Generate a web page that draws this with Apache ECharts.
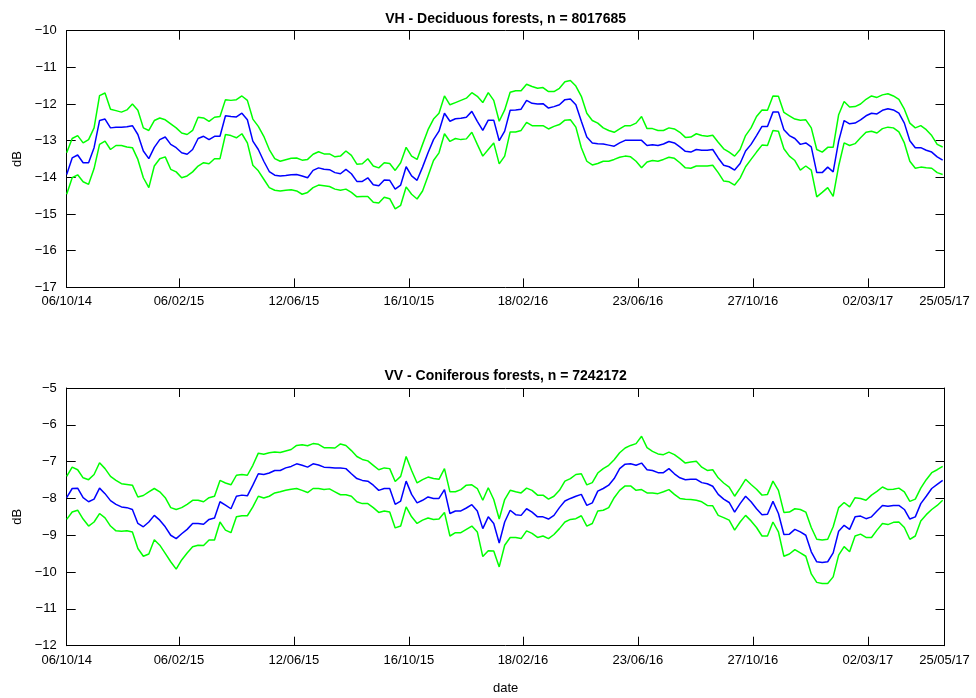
<!DOCTYPE html>
<html>
<head>
<meta charset="utf-8">
<script src="https://cdn.jsdelivr.net/npm/echarts@6/dist/echarts.min.js"></script>
<style>
  html, body { margin: 0; padding: 0; background: #ffffff; }
  #chart { width: 976px; height: 698px; }
</style>
</head>
<body>
<div id="chart"></div>
<script>
// Sampling grid of the backscatter time series
const firstDate = '2014-10-06';
const stepDays = 6;

// Date ticks shown on both panels
const tickDates = ['2014-10-06', '2015-02-06', '2015-06-12', '2015-10-16', '2016-02-18',
                   '2016-06-23', '2016-10-27', '2017-03-02', '2017-05-25'];

const vhTitle = 'VH - Deciduous forests, n = 8017685';
const vvTitle = 'VV - Coniferous forests, n = 7242172';

// VH, deciduous forests: mean and mean +/- one standard deviation (dB)
const vhMean = [
  -13.92, -13.47, -13.39, -13.60, -13.60, -13.19, -12.45, -12.41, -12.65, -12.63,
  -12.63, -12.62, -12.59, -12.83, -13.28, -13.49, -13.18, -12.97, -12.90, -13.10,
  -13.19, -13.33, -13.37, -13.24, -12.94, -12.88, -12.97, -12.88, -12.88, -12.32,
  -12.34, -12.35, -12.25, -12.43, -13.01, -13.24, -13.56, -13.84, -13.94, -13.96,
  -13.95, -13.93, -13.92, -13.96, -14.01, -13.81, -13.74, -13.78, -13.79, -13.87,
  -13.90, -13.78, -13.90, -14.11, -14.11, -14.01, -14.20, -14.23, -14.07, -14.08,
  -14.32, -14.21, -13.71, -13.96, -14.08, -13.72, -13.33, -12.97, -12.74, -12.25,
  -12.47, -12.40, -12.39, -12.36, -12.20, -12.47, -12.72, -12.44, -12.44, -13.00,
  -12.74, -12.17, -12.16, -12.14, -11.90, -11.98, -12.00, -11.99, -12.11, -12.07,
  -12.02, -11.88, -11.86, -12.02, -12.47, -12.90, -13.06, -13.08, -13.09, -13.12,
  -13.15, -13.06, -12.99, -12.99, -12.99, -12.99, -13.13, -13.11, -13.13, -13.09,
  -13.02, -13.06, -13.17, -13.29, -13.31, -13.24,
  -13.26, -13.26, -13.24, -13.47, -13.67, -13.71, -13.80, -13.62, -13.28, -13.10,
  -12.86, -12.61, -12.61, -12.22, -12.22, -12.70, -12.86, -12.94, -13.10, -13.06,
  -13.17, -13.87, -13.87, -13.72, -13.85, -13.01, -12.45, -12.54, -12.52, -12.43,
  -12.32, -12.25, -12.27, -12.17, -12.13, -12.16, -12.25, -12.52, -13.00, -13.19,
  -13.19, -13.26, -13.31, -13.44, -13.53
];
const vhUpper = [
  -13.33, -12.94, -12.86, -13.06, -12.97, -12.65, -11.77, -11.70, -12.14, -12.18,
  -12.22, -12.16, -12.00, -12.17, -12.65, -12.72, -12.45, -12.38, -12.43, -12.54,
  -12.65, -12.79, -12.83, -12.72, -12.36, -12.38, -12.47, -12.36, -12.34, -11.88,
  -11.90, -11.88, -11.78, -11.90, -12.41, -12.61, -12.88, -13.24, -13.49, -13.56,
  -13.52, -13.48, -13.47, -13.53, -13.51, -13.37, -13.30, -13.36, -13.36, -13.44,
  -13.42, -13.28, -13.40, -13.64, -13.63, -13.49, -13.69, -13.74, -13.60, -13.62,
  -13.81, -13.60, -13.18, -13.42, -13.51, -13.10, -12.70, -12.41, -12.25, -11.78,
  -12.02, -11.96, -11.90, -11.84, -11.69, -11.79, -11.96, -11.69, -11.90, -12.47,
  -12.16, -11.68, -11.64, -11.64, -11.46, -11.52, -11.57, -11.55, -11.66, -11.66,
  -11.57, -11.39, -11.36, -11.51, -11.79, -12.25, -12.45, -12.52, -12.65, -12.72,
  -12.77, -12.68, -12.59, -12.59, -12.52, -12.34, -12.67, -12.67, -12.72, -12.72,
  -12.65, -12.68, -12.77, -12.91, -12.90, -12.81,
  -12.86, -12.88, -12.85, -13.04, -13.22, -13.31, -13.42, -13.24, -12.86, -12.65,
  -12.34, -12.16, -12.17, -11.78, -11.79, -12.23, -12.32, -12.41, -12.44, -12.43,
  -12.65, -13.24, -13.31, -13.18, -13.18, -12.29, -11.93, -12.08, -12.07, -12.00,
  -11.87, -11.78, -11.82, -11.75, -11.72, -11.78, -11.87, -12.14, -12.52, -12.65,
  -12.59, -12.70, -12.86, -13.10, -13.17
];
const vhLower = [
  -14.46, -14.01, -13.93, -14.12, -14.19, -13.76, -13.10, -13.01, -13.24, -13.13,
  -13.13, -13.17, -13.19, -13.51, -14.01, -14.28, -13.69, -13.49, -13.44, -13.78,
  -13.85, -14.01, -13.96, -13.85, -13.69, -13.60, -13.63, -13.49, -13.49, -12.83,
  -12.86, -12.92, -12.81, -13.06, -13.67, -13.82, -14.05, -14.28, -14.35, -14.37,
  -14.35, -14.34, -14.37, -14.46, -14.41, -14.28, -14.21, -14.23, -14.25, -14.32,
  -14.35, -14.32, -14.41, -14.53, -14.52, -14.52, -14.68, -14.70, -14.54, -14.58,
  -14.86, -14.76, -14.26, -14.46, -14.59, -14.37, -13.96, -13.54, -13.33, -12.81,
  -13.02, -12.94, -12.97, -12.95, -12.77, -13.10, -13.42, -13.24, -13.06, -13.63,
  -13.42, -12.76, -12.76, -12.72, -12.50, -12.59, -12.59, -12.59, -12.68, -12.61,
  -12.56, -12.44, -12.43, -12.63, -13.19, -13.56, -13.66, -13.62, -13.56, -13.56,
  -13.51, -13.45, -13.42, -13.44, -13.56, -13.74, -13.58, -13.54, -13.56, -13.51,
  -13.45, -13.48, -13.60, -13.74, -13.75, -13.69,
  -13.69, -13.69, -13.67, -13.87, -14.10, -14.12, -14.21, -14.02, -13.71, -13.51,
  -13.31, -13.12, -13.13, -12.72, -12.74, -13.22, -13.42, -13.54, -13.80, -13.69,
  -13.80, -14.53, -14.41, -14.28, -14.52, -13.69, -13.06, -13.13, -13.08, -12.92,
  -12.77, -12.74, -12.79, -12.67, -12.63, -12.65, -12.76, -13.06, -13.56, -13.75,
  -13.72, -13.74, -13.75, -13.87, -13.92
];

// VV, coniferous forests: mean and mean +/- one standard deviation (dB)
const vvMean = [
  -7.98, -7.73, -7.72, -7.98, -8.09, -8.02, -7.72, -7.87, -8.06, -8.16,
  -8.23, -8.25, -8.30, -8.68, -8.77, -8.64, -8.46, -8.59, -8.77, -9.00,
  -9.09, -8.96, -8.84, -8.68, -8.68, -8.70, -8.57, -8.53, -8.09, -8.18,
  -8.28, -7.94, -7.91, -7.93, -7.64, -7.33, -7.35, -7.31, -7.24,
  -7.24, -7.17, -7.13, -7.06, -7.10, -7.15, -7.06, -7.09, -7.15, -7.16, -7.17,
  -7.17, -7.19, -7.33, -7.46, -7.51, -7.53, -7.64, -7.78, -7.73, -7.73,
  -8.16, -8.07, -7.53, -7.89, -8.12, -8.05, -7.96, -8.00, -8.00, -7.76,
  -8.41, -8.34, -8.34, -8.26, -8.17, -8.34,
  -8.82, -8.50, -8.68, -9.21, -8.64, -8.32, -8.44, -8.46, -8.28, -8.37,
  -8.50, -8.50, -8.56, -8.46, -8.25, -8.07, -8.00, -7.94, -7.89, -8.19,
  -8.12, -7.80, -7.73, -7.64, -7.46, -7.19, -7.07, -7.06, -7.10, -7.04,
  -7.22, -7.24, -7.30, -7.30, -7.19, -7.33, -7.44, -7.49, -7.48, -7.48,
  -7.57, -7.60, -7.67, -7.89, -8.02, -8.11, -8.37, -8.14, -7.94, -8.09,
  -8.28, -8.44, -8.43, -8.08, -8.41, -8.98, -8.97, -8.84, -8.91, -9.00,
  -9.45, -9.72, -9.74, -9.72, -9.48, -8.89, -8.73, -8.84, -8.50, -8.48,
  -8.55, -8.50, -8.34, -8.19, -8.21, -8.19, -8.19, -8.30, -8.56, -8.50,
  -8.14, -7.94, -7.73, -7.62, -7.51
];
const vvUpper = [
  -7.40, -7.15, -7.22, -7.44, -7.49, -7.35, -7.03, -7.19, -7.40, -7.51,
  -7.60, -7.62, -7.64, -7.96, -7.92, -7.82, -7.73, -7.82, -7.98, -8.25,
  -8.30, -8.25, -8.16, -8.05, -8.05, -8.09, -7.98, -7.94, -7.51, -7.58,
  -7.63, -7.37, -7.35, -7.37, -7.10, -6.77, -6.80, -6.76, -6.74,
  -6.75, -6.71, -6.67, -6.56, -6.54, -6.57, -6.51, -6.53, -6.62, -6.62, -6.63,
  -6.52, -6.56, -6.70, -6.86, -6.94, -6.98, -7.10, -7.22, -7.17, -7.19,
  -7.54, -7.40, -6.86, -7.24, -7.58, -7.49, -7.42, -7.46, -7.48, -7.19,
  -7.82, -7.82, -7.76, -7.64, -7.63, -7.73,
  -8.05, -7.71, -8.03, -8.56, -8.03, -7.78, -7.82, -7.85, -7.72, -7.78,
  -7.91, -7.91, -8.02, -7.94, -7.78, -7.53, -7.46, -7.35, -7.33, -7.63,
  -7.57, -7.31, -7.19, -7.10, -6.95, -6.76, -6.63, -6.56, -6.51, -6.31,
  -6.62, -6.72, -6.79, -6.81, -6.74, -6.81, -6.92, -7.04, -7.01, -6.99,
  -7.15, -7.24, -7.22, -7.44, -7.58, -7.69, -7.94, -7.72, -7.48, -7.62,
  -7.75, -7.91, -7.89, -7.53, -7.78, -8.38, -8.37, -8.28, -8.30, -8.37,
  -8.79, -9.11, -9.13, -9.11, -8.77, -8.25, -8.11, -8.23, -7.98, -8.00,
  -8.05, -7.91, -7.81, -7.69, -7.76, -7.75, -7.72, -7.82, -8.08, -8.02,
  -7.72, -7.49, -7.30, -7.22, -7.13
];
const vvLower = [
  -8.57, -8.37, -8.32, -8.56, -8.75, -8.64, -8.41, -8.53, -8.75, -8.88,
  -8.89, -8.88, -8.91, -9.36, -9.57, -9.51, -9.12, -9.27, -9.49, -9.72,
  -9.92, -9.67, -9.48, -9.31, -9.27, -9.28, -9.13, -9.13, -8.64, -8.86,
  -8.93, -8.50, -8.47, -8.47, -8.23, -7.94, -7.99, -7.94, -7.85,
  -7.82, -7.78, -7.75, -7.73, -7.78, -7.84, -7.73, -7.73, -7.76, -7.74, -7.82,
  -7.90, -7.90, -7.94, -8.09, -8.14, -8.14, -8.25, -8.38, -8.34, -8.37,
  -8.80, -8.75, -8.23, -8.50, -8.68, -8.59, -8.53, -8.57, -8.56, -8.38,
  -9.02, -8.93, -8.93, -8.84, -8.75, -8.91,
  -9.58, -9.42, -9.43, -9.86, -9.27, -9.06, -9.06, -9.09, -8.88, -8.95,
  -9.06, -9.02, -9.09, -8.98, -8.82, -8.64, -8.57, -8.55, -8.47, -8.75,
  -8.68, -8.34, -8.32, -8.25, -7.98, -7.78, -7.66, -7.66, -7.78, -7.76,
  -7.85, -7.85, -7.87, -7.82, -7.76, -7.89, -8.00, -8.02, -8.03, -8.05,
  -8.09, -8.19, -8.20, -8.46, -8.52, -8.59, -8.86, -8.64, -8.46, -8.61,
  -8.79, -9.02, -9.02, -8.64, -8.91, -9.57, -9.51, -9.39, -9.48, -9.57,
  -10.05, -10.28, -10.31, -10.31, -10.13, -9.54, -9.31, -9.45, -9.02, -8.97,
  -9.06, -9.06, -8.86, -8.68, -8.71, -8.65, -8.64, -8.79, -9.11, -9.02,
  -8.61, -8.44, -8.30, -8.19, -8.05
];

// ---- helpers ----
const DAY = 86400000;
function parseDate(s) {
  const p = s.split('-').map(Number);
  return Date.UTC(p[0], p[1] - 1, p[2]);
}
function pad(n) { return (n < 10 ? '0' : '') + n; }
function fmtDate(v) {
  const d = new Date(v);
  return pad(d.getUTCDate()) + '/' + pad(d.getUTCMonth() + 1) + '/' + pad(d.getUTCFullYear() % 100);
}
// dB tick labels use a true minus sign
function fmtDb(v) {
  return String(v).replace('-', '\u2212');
}
const t0 = parseDate(firstDate);
function toSeries(values) {
  return values.map((v, i) => [t0 + i * stepDays * DAY, v]);
}

const ticks = tickDates.map(parseDate);
const xMin = ticks[0];
const xMax = ticks[ticks.length - 1];

const FONT = "'Liberation Sans', Arial, Helvetica, sans-serif";
const INK = '#000000';
const TICK_LEN = 9;

const panels = [
  { title: vhTitle, top: 30.7, height: 256.7, titleTop: 12, min: -17, max: -10,
    mean: vhMean, upper: vhUpper, lower: vhLower },
  { title: vvTitle, top: 388, height: 257.7, titleTop: 369, min: -12, max: -5,
    mean: vvMean, upper: vvUpper, lower: vvLower }
];
const GRID_LEFT = 66.7, GRID_RIGHT = 31.5;

const grid = [], xAxis = [], yAxis = [], series = [], title = [];

panels.forEach((p, gi) => {
  grid.push({ left: GRID_LEFT, right: GRID_RIGHT, top: p.top, height: p.height, containLabel: false });
  title.push({
    text: p.title,
    left: GRID_LEFT + (976 - GRID_LEFT - GRID_RIGHT) / 2,
    textAlign: 'center',
    top: p.titleTop,
    padding: 0,
    textStyle: { fontFamily: FONT, fontSize: 14, fontWeight: 'bold', color: INK }
  });
  const isLast = gi === panels.length - 1;
  ['bottom', 'top'].forEach(pos => {
    xAxis.push({
      gridIndex: gi,
      type: 'value',
      position: pos,
      min: xMin,
      max: xMax,
      scale: true,
      name: (pos === 'bottom' && isLast) ? 'date' : '',
      nameLocation: 'middle',
      nameGap: 36,
      nameTextStyle: { fontFamily: FONT, fontSize: 13, color: INK },
      axisLine: { show: true, onZero: false, lineStyle: { color: INK, width: 1 } },
      axisTick: { show: true, inside: true, length: TICK_LEN, customValues: ticks,
                  lineStyle: { color: INK, width: 1 } },
      axisLabel: { show: pos === 'bottom', customValues: ticks, formatter: fmtDate,
                   margin: 8, fontFamily: FONT, fontSize: 13, color: INK },
      splitLine: { show: false },
      minorTick: { show: false }
    });
  });
  ['left', 'right'].forEach(pos => {
    yAxis.push({
      gridIndex: gi,
      type: 'value',
      position: pos,
      min: p.min,
      max: p.max,
      interval: 1,
      name: pos === 'left' ? 'dB' : '',
      nameLocation: 'middle',
      nameGap: 39,
      nameTextStyle: { fontFamily: FONT, fontSize: 13, color: INK },
      axisLine: { show: true, onZero: false, lineStyle: { color: INK, width: 1 } },
      axisTick: { show: true, inside: true, length: TICK_LEN, lineStyle: { color: INK, width: 1 } },
      axisLabel: { show: pos === 'left', margin: 10, formatter: fmtDb,
                   fontFamily: FONT, fontSize: 13, color: INK },
      splitLine: { show: false }
    });
  });
  const xi = gi * 2, yi = gi * 2;
  const lineSeries = (data, color, z) => ({
    type: 'line',
    xAxisIndex: xi,
    yAxisIndex: yi,
    data: toSeries(data),
    showSymbol: false,
    symbol: 'none',
    smooth: false,
    z: z,
    lineStyle: { color: color, width: 1.5 },
    emphasis: { disabled: true }
  });
  series.push(lineSeries(p.upper, '#00ff00', 2));
  series.push(lineSeries(p.lower, '#00ff00', 2));
  series.push(lineSeries(p.mean, '#0000ff', 3));
});

const chart = echarts.init(document.getElementById('chart'), null, { renderer: 'canvas' });
chart.setOption({
  animation: false,
  backgroundColor: '#ffffff',
  title: title,
  grid: grid,
  xAxis: xAxis,
  yAxis: yAxis,
  series: series
});
</script>
</body>
</html>
